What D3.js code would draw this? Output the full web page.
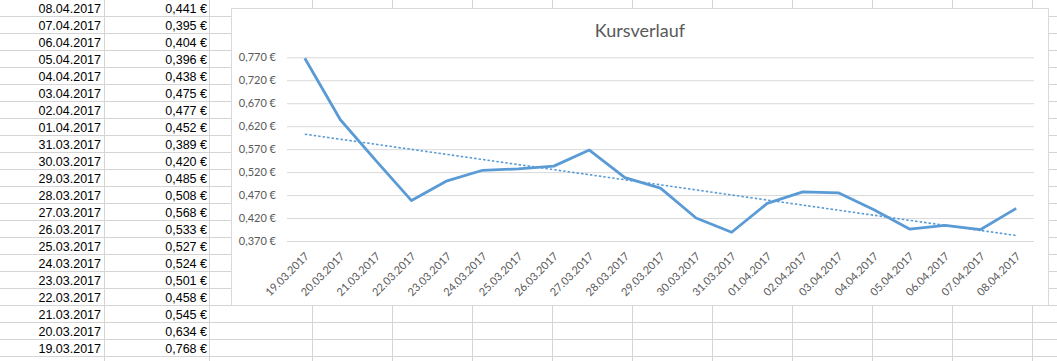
<!DOCTYPE html>
<html>
<head>
<meta charset="utf-8">
<script src="https://cdn.jsdelivr.net/npm/d3@7"></script>
<style>
  body { margin: 0; background: #fff; }
  svg { display: block; }
</style>
</head>
<body>
<script>
// data (chronological order, as on the x axis)
var dates = ["19.03.2017","20.03.2017","21.03.2017","22.03.2017","23.03.2017","24.03.2017","25.03.2017",
             "26.03.2017","27.03.2017","28.03.2017","29.03.2017","30.03.2017","31.03.2017","01.04.2017",
             "02.04.2017","03.04.2017","04.04.2017","05.04.2017","06.04.2017","07.04.2017","08.04.2017"];
var prices = [0.768,0.634,0.545,0.458,0.501,0.524,0.527,0.533,0.568,0.508,0.485,0.420,0.389,0.452,
              0.477,0.475,0.438,0.396,0.404,0.395,0.441];
var yTicks = [0.370,0.420,0.470,0.520,0.570,0.620,0.670,0.720,0.770];
var chartTitle = "Kursverlauf";

//globals
var width = 1057, height = 361;
var rowH = 17, rowTop = 16;
var colLines = [104,209,312,392,472,552,632,712,792,872,952,1032];
var gridCol = "#d4d4d4";
var blue = "#5b9bd5";
var euro = function(v){ return d3.format(".3f")(v).replace(".", ",") + " €"; };

var svg = d3.select("body").append("svg")
    .attr("width", width)
    .attr("height", height);

//spreadsheet grid
var sheet = svg.append("g");
sheet.selectAll("line.row")
    .data(d3.range(0, 21))
    .enter().append("line")
    .attr("x1", 0).attr("x2", width)
    .attr("y1", function(d){ return rowTop + d*rowH + 0.5; })
    .attr("y2", function(d){ return rowTop + d*rowH + 0.5; })
    .attr("stroke", gridCol);
sheet.selectAll("line.col")
    .data(colLines)
    .enter().append("line")
    .attr("x1", function(d){ return d + 0.5; })
    .attr("x2", function(d){ return d + 0.5; })
    .attr("y1", 0).attr("y2", height)
    .attr("stroke", gridCol);

//table cells, newest date on top
var tableRows = d3.range(dates.length).reverse();
sheet.selectAll("text.date")
    .data(tableRows)
    .enter().append("text")
    .attr("x", 101)
    .attr("y", function(d,i){ return 12.5 + i*rowH; })
    .attr("text-anchor", "end")
    .style("font", "12.5px 'Liberation Sans', Arial, sans-serif")
    .text(function(d){ return dates[d]; });
sheet.selectAll("text.val")
    .data(tableRows)
    .enter().append("text")
    .attr("x", 207)
    .attr("y", function(d,i){ return 12.5 + i*rowH; })
    .attr("text-anchor", "end")
    .style("font", "12.5px 'Liberation Sans', Arial, sans-serif")
    .text(function(d){ return euro(prices[d]); });

//chart area
var chart = svg.append("g");
chart.append("rect")
    .attr("x", 231.5).attr("y", 8.5)
    .attr("width", 817).attr("height", 297)
    .attr("fill", "#fff")
    .attr("stroke", "#d9d9d9");

chart.append("text")
    .attr("x", 640)
    .attr("y", 37)
    .attr("text-anchor", "middle")
    .attr("fill", "#595959")
    .style("font", "18px Lato, sans-serif")
    .text(chartTitle);

var x = d3.scalePoint().domain(dates).range([287, 1034]).padding(0.5);
var y = d3.scaleLinear().domain([0.370, 0.770]).range([241, 57.3]);

//gridlines + y labels
var yAxis = d3.axisLeft(y).tickValues(yTicks).tickSize(-(1034-287)).tickPadding(11).tickFormat(euro);
var yg = chart.append("g").attr("transform", "translate(287,0)").call(yAxis);
yg.select(".domain").remove();
yg.selectAll(".tick line").attr("stroke", "#d9d9d9");
yg.selectAll(".tick text")
    .attr("fill", "#595959")
    .style("font", "11px Lato, sans-serif");

//x labels
chart.append("g").selectAll("text")
    .data(dates)
    .enter().append("text")
    .attr("transform", function(d){ return "translate(" + (x(d)+5) + ",257) rotate(-45)"; })
    .attr("text-anchor", "end")
    .attr("fill", "#595959")
    .style("font", "11px Lato, sans-serif")
    .text(function(d){ return d; });

//linear trendline
var idx = d3.range(prices.length);
var mx = d3.mean(idx), my = d3.mean(prices);
var slope = d3.sum(idx, function(i){ return (i-mx)*(prices[i]-my); }) / d3.sum(idx, function(i){ return (i-mx)*(i-mx); });
var icpt = my - slope*mx;
chart.append("line")
    .attr("x1", x(dates[0]))
    .attr("y1", y(icpt))
    .attr("x2", x(dates[dates.length-1]))
    .attr("y2", y(icpt + slope*(dates.length-1)))
    .attr("stroke", blue)
    .attr("stroke-width", 1.6)
    .attr("stroke-dasharray", "2.5,2");

//price line
var line = d3.line()
    .x(function(d,i){ return x(dates[i]); })
    .y(function(d){ return y(d); });
chart.append("path")
    .datum(prices)
    .attr("d", line)
    .attr("fill", "none")
    .attr("stroke", blue)
    .attr("stroke-width", 2.8)
    .attr("stroke-linejoin", "round");
</script>
</body>
</html>
